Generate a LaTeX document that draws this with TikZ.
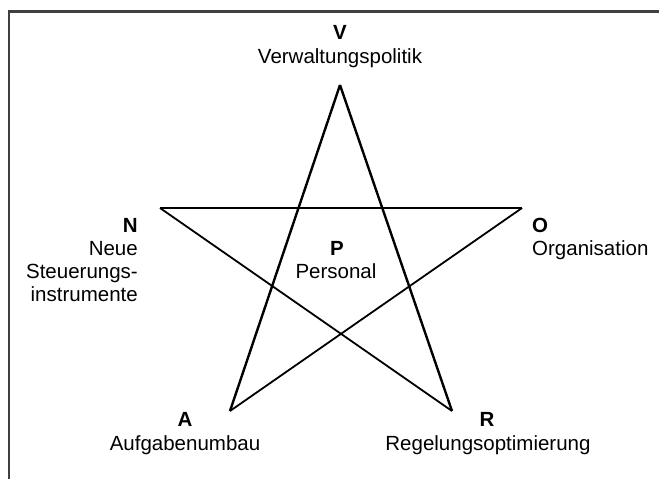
\documentclass[tikz,border=0pt]{standalone}
\usepackage{fontspec}
\setmainfont{Liberation Sans}
\usetikzlibrary{positioning}
\definecolor{FrameGrey}{RGB}{64,64,64}

\begin{document}
\begin{tikzpicture}[
  x=1pt, y=-1pt,
  font=\fontsize{20.5}{23}\selectfont,
  key/.style={font=\fontsize{20.5}{23}\selectfont\bfseries, inner sep=0pt, anchor=base},
  txt/.style={inner sep=0pt, anchor=base},
  edge/.style={line width=2.4pt},
  cross/.style={line width=1.8pt},
  frame/.style={draw=FrameGrey, line width=2.4pt},
]
\useasboundingbox (0,0) rectangle (659,479);
\draw[frame] (8.7,479) -- (8.7,11.3) -- (659,11.3);

% star points
\coordinate (V) at (340,85);
\coordinate (N) at (160,208);
\coordinate (O) at (522,208);
\coordinate (A) at (230,411);
\coordinate (R) at (452,411);

\draw[edge] (V) -- (A);
\draw[edge] (V) -- (R);
\draw[edge] (N) -- (O);
\draw[cross] (N) -- (R);
\draw[cross] (O) -- (A);

% labels
\node[key] (keyV) at (340,39) {V};
\node[txt] (txtV) at (340,63) {Verwaltungspolitik};

\node[key, anchor=base east] (keyN) at (138,232) {N};
% base of a multi-line node is its last line
\node[txt, anchor=base east, align=right] (txtN) at (138,301)
  {Neue\\Steuerungs-\\instrumente};

\node[key, anchor=base west] (keyO) at (532,232) {O};
\node[txt, anchor=base west] (txtO) at (532,255) {Organisation};

\node[key] (keyP) at (337,255) {P};
\node[txt] (txtP) at (336,278) {Personal};

\node[key] (keyA) at (185,426) {A};
\node[txt] (txtA) at (185,450) {Aufgabenumbau};

\node[key] (keyR) at (487,426) {R};
\node[txt] (txtR) at (488,450) {Regelungsoptimierung};
\end{tikzpicture}
\end{document}
